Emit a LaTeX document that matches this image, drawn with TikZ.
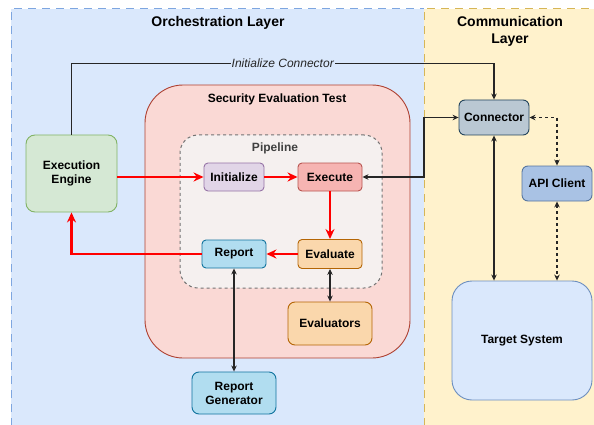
\documentclass[tikz,border=0pt]{standalone}
\usepackage{fontspec}
\setmainfont{Liberation Sans}
\usetikzlibrary{arrows.meta}

\definecolor{orchfill}{HTML}{DAE8FC}
\definecolor{orchline}{HTML}{7EA6E0}
\definecolor{commfill}{HTML}{FFF2CC}
\definecolor{commline}{HTML}{D6B656}
\definecolor{setfill}{HTML}{FAD9D5}
\definecolor{setline}{HTML}{AE4132}
\definecolor{pipefill}{HTML}{F5F0EF}
\definecolor{greenfill}{HTML}{D5E8D4}
\definecolor{greenline}{HTML}{82B366}
\definecolor{purplefill}{HTML}{E1D5E7}
\definecolor{purpleline}{HTML}{9673A6}
\definecolor{redfill}{HTML}{F6B4B2}
\definecolor{redline}{HTML}{B85450}
\definecolor{orangefill}{HTML}{FAD7AC}
\definecolor{orangeline}{HTML}{B46504}
\definecolor{cyanfill}{HTML}{B1DDF0}
\definecolor{cyanline}{HTML}{10739E}
\definecolor{slatefill}{HTML}{BAC8D3}
\definecolor{slateline}{HTML}{23445D}
\definecolor{apifill}{HTML}{A9C2E4}
\definecolor{apiline}{HTML}{56759F}
\definecolor{blueline}{HTML}{6C8EBF}

\tikzset{
  box/.style={draw, rounded corners=4pt, line width=0.9pt, inner sep=0pt,
    align=center, font=\fontsize{12}{14}\selectfont\bfseries},
  title/.style={font=\fontsize{14}{17}\selectfont\bfseries, align=center},
  flow/.style={draw=red, line width=2.2pt, -{Stealth[length=10pt,width=9pt]}},
  link/.style={draw=black!85, line width=1.1pt, {Stealth[length=6pt,width=5.5pt]}-{Stealth[length=6pt,width=5.5pt]}},
  wire/.style={draw=black!85, line width=1.1pt, -{Stealth[length=6pt,width=5.5pt]}},
}

\begin{document}
\begin{tikzpicture}[x=1pt,y=-1pt]
\useasboundingbox (0,0) rectangle (594,425);
% layers
\fill[orchfill] (11,9) rectangle (424,440);
\draw[orchline, dashed, dash pattern=on 8pt off 6pt, line width=1pt] (11,440) -- (11,9) -- (424,9);
\fill[commfill] (424,9) rectangle (610,440);
\draw[commline, dashed, dash pattern=on 8pt off 6pt, line width=1pt] (424,440) -- (424,9) -- (610,9);
\node[title] (orchtitle) at (218,23) {Orchestration Layer};
\node[title] (commtitle) at (510,31) {Communication\\Layer};
\coordinate (layerdiv) at (424,0);

% security evaluation test + pipeline
\node[draw=setline, fill=setfill, line width=0.9pt, rounded corners=38pt,
  minimum width=265pt, minimum height=273pt] (sectest) at (277.5,221.5) {};
\node[font=\fontsize{12}{14}\selectfont\bfseries] (sectitle) at (277,99) {Security Evaluation Test};
\node[draw=black!55, fill=pipefill, dashed, line width=1pt, rounded corners=18pt,
  minimum width=202pt, minimum height=153pt] (pipeline) at (281,211.5) {};
\node[font=\fontsize{12}{14}\selectfont\bfseries, text=black!75] (pipetitle) at (275,148) {Pipeline};

% boxes
\node[box, draw=greenline, fill=greenfill, rounded corners=9pt, minimum width=91pt, minimum height=77pt] (engine) at (71.5,173.5) {Execution\\Engine};
\node[box, draw=purpleline, fill=purplefill, minimum width=60pt, minimum height=28pt] (init) at (234,177) {Initialize};
\node[box, draw=redline, fill=redfill, minimum width=64pt, minimum height=28pt] (exec) at (330,177) {Execute};
\node[box, draw=orangeline, fill=orangefill, minimum width=64pt, minimum height=29pt] (eval) at (330,254) {Evaluate};
\node[box, draw=cyanline, fill=cyanfill, minimum width=64pt, minimum height=28pt] (report) at (234,254) {Report};
\node[box, draw=orangeline, fill=orangefill, rounded corners=7pt, minimum width=84pt, minimum height=43pt] (evals) at (330,323.5) {Evaluators};
\node[box, draw=cyanline, fill=cyanfill, rounded corners=7pt, minimum width=84pt, minimum height=42pt] (repgen) at (234,393) {Report\\Generator};
\node[box, draw=slateline, fill=slatefill, rounded corners=6pt, minimum width=70pt, minimum height=35pt] (conn) at (494,117.5) {Connector};
\node[box, draw=apiline, fill=apifill, rounded corners=6pt, minimum width=70pt, minimum height=35pt] (api) at (557,183.5) {API Client};
\node[box, draw=blueline, fill=orchfill, rounded corners=20pt, minimum width=140pt, minimum height=119pt] (target) at (522,340.5) {Target System};

% pipeline flow
\draw[flow] (engine.east |- init.west) -- (init.west);
\draw[flow] (init) -- (exec);
\draw[flow] (exec) -- (eval);
\draw[flow] (eval) -- (report);
\draw[flow] (report.west) -| (engine.south);

% other connectors
\draw[wire] (engine.north) |- node[pos=0.75, fill=orchfill, inner sep=1pt,
  font=\fontsize{12}{14}\selectfont\itshape, text=black!85] (initlbl) {Initialize Connector} ([yshift=36pt]conn.north) -- (conn.north);
\draw[link] (report) -- (repgen);
\draw[link] (eval) -- (evals);
\draw[link] (exec.east) -- (exec.east -| layerdiv) |- (conn.west);
\draw[link] (conn.south) -- (conn.south |- target.north);
\draw[link, dashed] (conn.east) -| (api.north);
\draw[link, dashed] (api.south) -- (api.south |- target.north);
\end{tikzpicture}
\end{document}
